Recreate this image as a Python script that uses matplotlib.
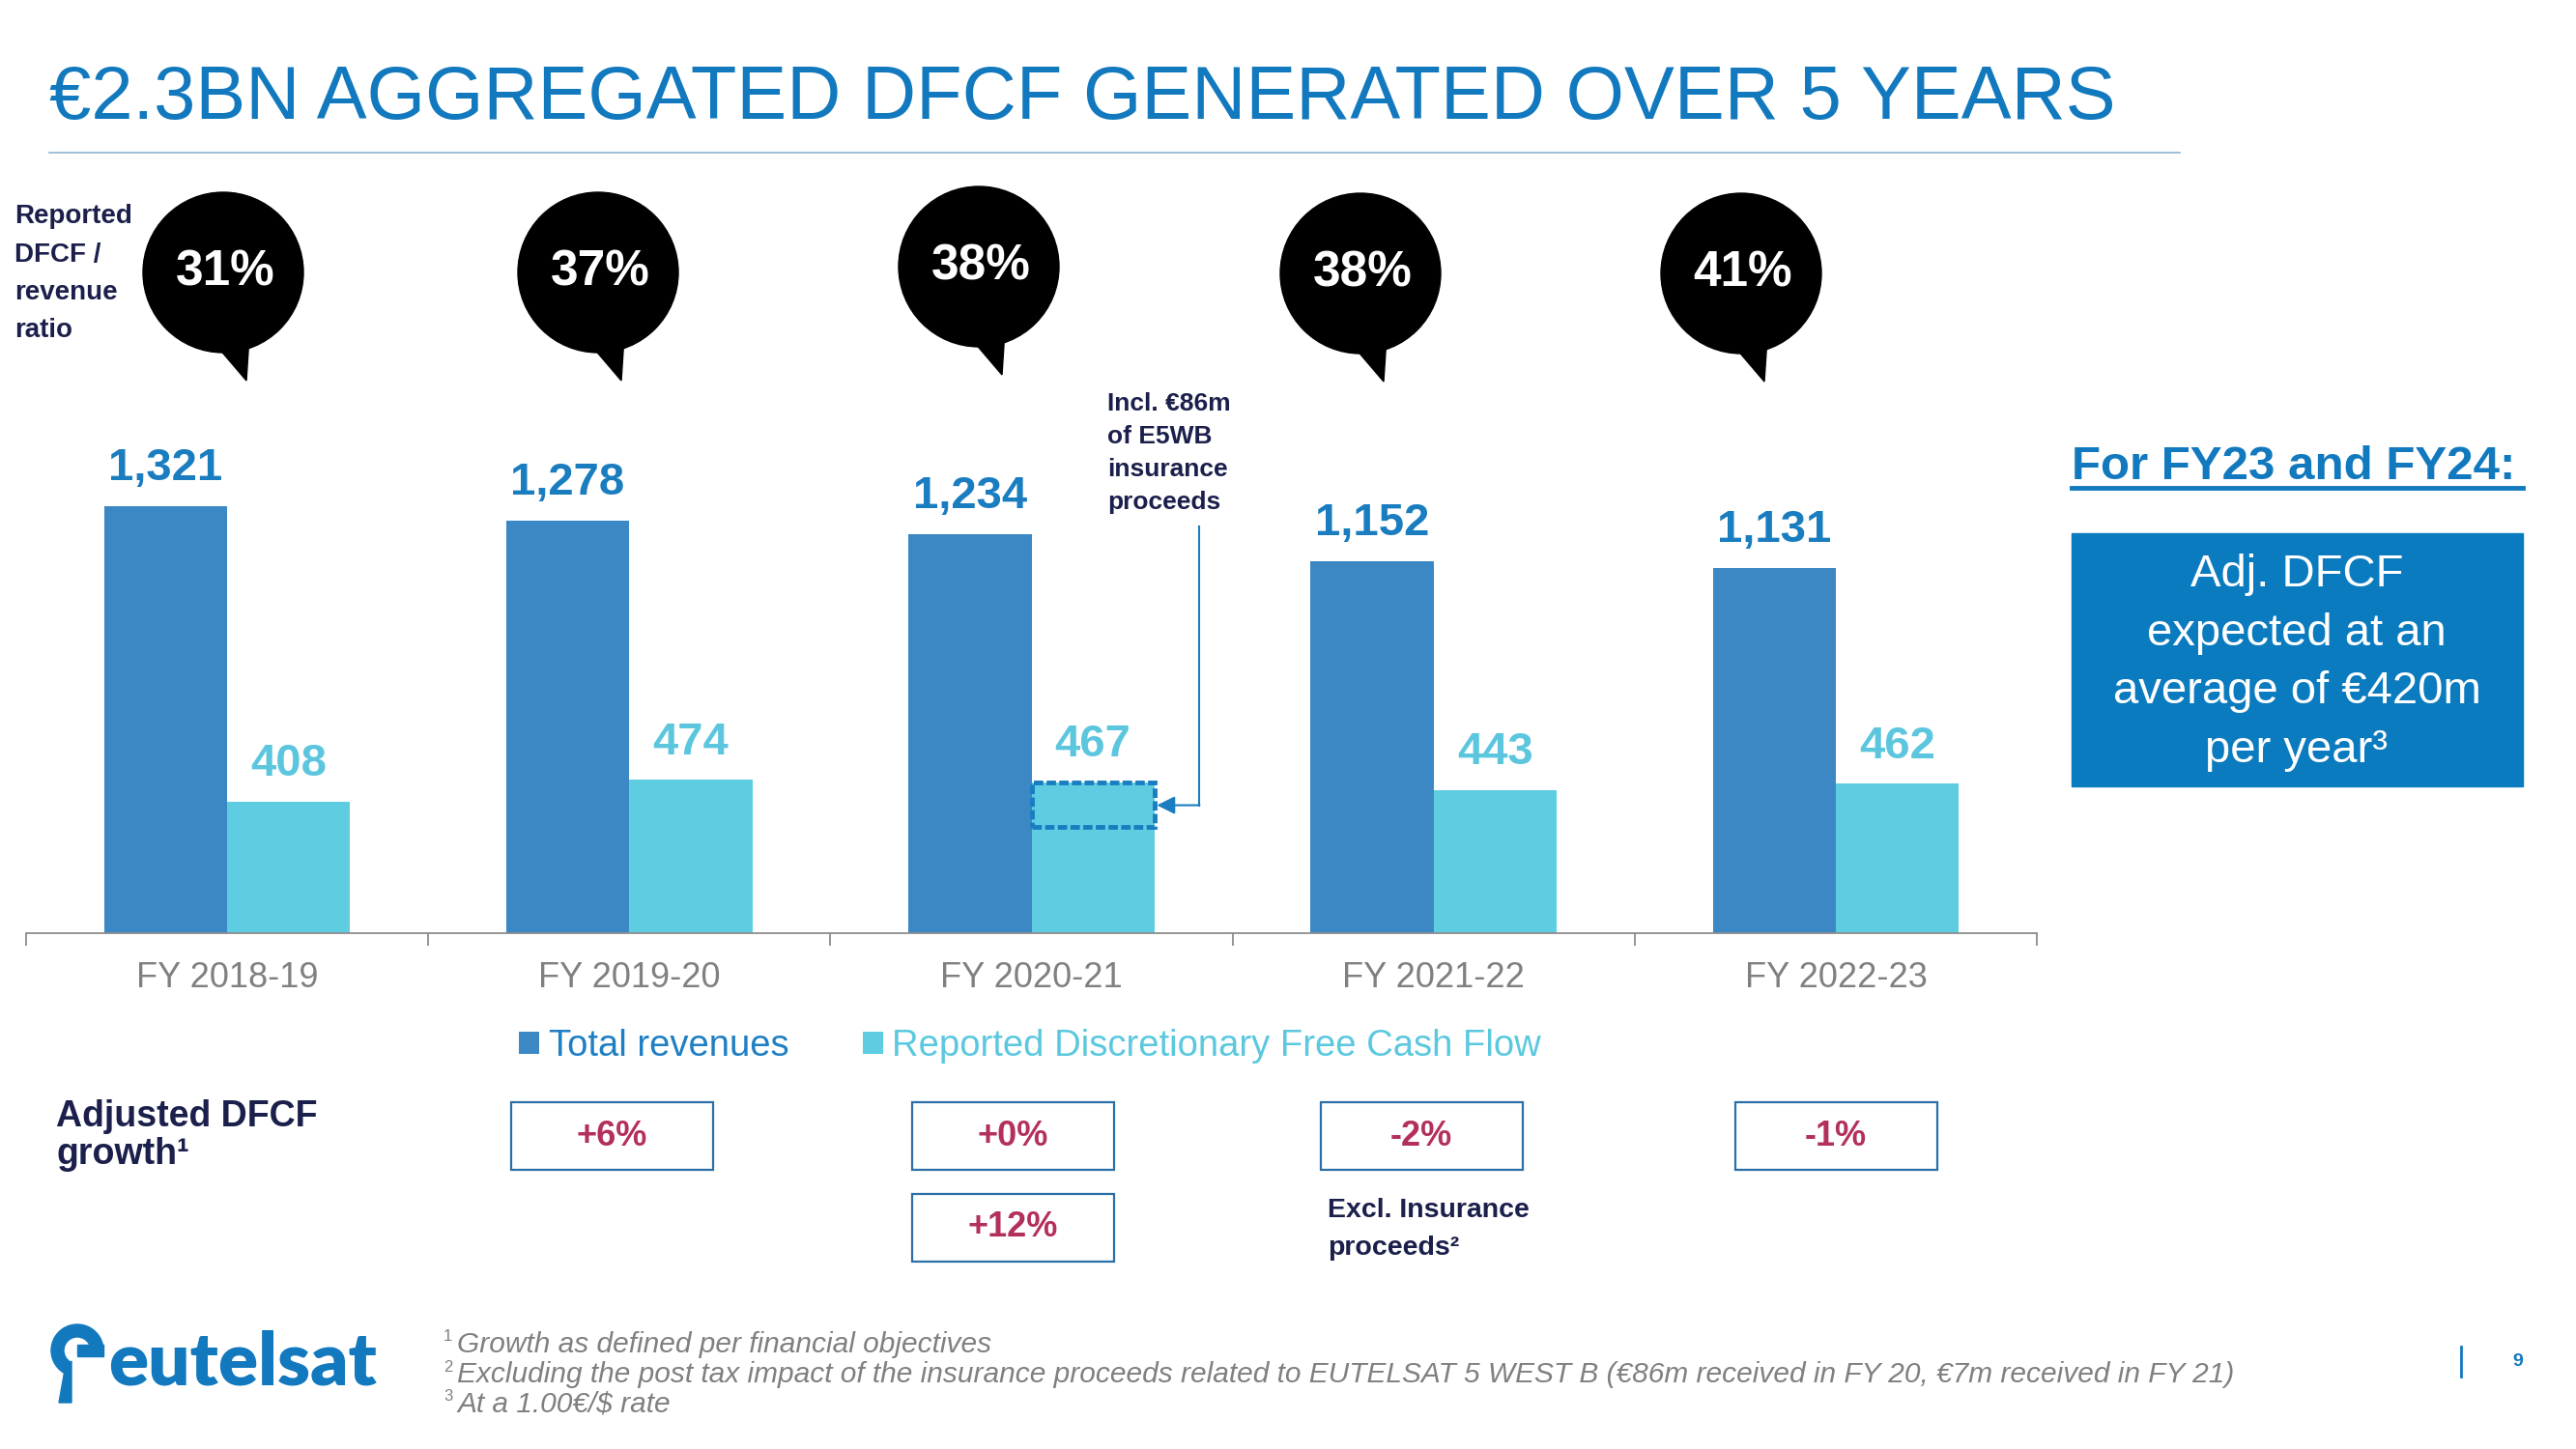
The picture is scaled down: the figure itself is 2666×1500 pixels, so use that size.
import numpy as np
import matplotlib
matplotlib.use("Agg")
import matplotlib.pyplot as plt
from matplotlib.patches import Circle, Polygon, Rectangle, Wedge

plt.rcParams['font.family'] = ['Liberation Sans', 'DejaVu Sans']

# data
years = ["FY 2018-19", "FY 2019-20", "FY 2020-21", "FY 2021-22", "FY 2022-23"]
revenues = [1321, 1278, 1234, 1152, 1131]
dfcf = [408, 474, 467, 443, 462]
dfcf_ratio = ["31%", "37%", "38%", "38%", "41%"]
growth = ["+6%", "+0%", "-2%", "-1%"]
growth_excl = "+12%"
insurance_low = 330  # bottom of the dashed insurance box in FY 2020-21

REV = "#3b88c5"
DFC = "#5ecde2"
BLUE = "#1279be"
NAVY = "#1b1f4b"
CRIMSON = "#b3305c"
GRAY = "#808080"

fig = plt.figure(figsize=(26.66, 15), dpi=100)

# overlay in pixel coordinates (y down) for all the slide decoration
ov = fig.add_axes([0, 0, 1, 1])
ov.set_xlim(0, 2666)
ov.set_ylim(1500, 0)
ov.axis('off')

# ---- bar chart ----
ax = fig.add_axes([27 / 2666, 534 / 1500, 2081 / 2666, 602 / 1500])
ax.patch.set_visible(False)
x = np.arange(len(years))
w = 0.306
ax.bar(x - w / 2, revenues, w, color=REV, label="Total revenues")
ax.bar(x + w / 2, dfcf, w, color=DFC, label="Reported Discretionary Free Cash Flow")
ax.set_xlim(-0.5, 4.5)
ax.set_ylim(0, 1800)

for xi, v in zip(x, revenues):
    ax.annotate(f"{v:,}", (xi - w / 2, v), xytext=(0, 28), textcoords='offset points',
                ha='center', va='center', fontsize=34, fontweight='bold', color="#1a7dc0")
for xi, v in zip(x, dfcf):
    ax.annotate(f"{v}", (xi + w / 2, v), xytext=(0, 28), textcoords='offset points',
                ha='center', va='center', fontsize=34, fontweight='bold', color="#5bc6de")

for s in ['left', 'top', 'right']:
    ax.spines[s].set_visible(False)
ax.spines['bottom'].set_color('#8c8c8c')
ax.spines['bottom'].set_linewidth(1.3)
ax.set_yticks([])
ax.set_xticks(x, years)
ax.set_xticks(np.arange(-0.5, 5, 1), minor=True)
ax.tick_params(axis='x', which='major', length=0, pad=21, labelsize=26, labelcolor=GRAY)
ax.tick_params(axis='x', which='minor', length=9, width=1.3, color='#8c8c8c')

# insurance proceeds box + arrow
ax.add_patch(Rectangle((2, insurance_low), w, dfcf[2] - insurance_low, fill=False,
                       ls=(0, (2, 0.7)), lw=3.5, edgecolor="#1a7dc0", zorder=3))
ax.plot([2.418, 2.418], [1260, 396], color="#1a7dc0", lw=1.5)
ax.annotate("", xy=(2.312, 396), xytext=(2.418, 396),
            arrowprops=dict(arrowstyle='-|>', color="#1a7dc0", lw=1.5,
                            mutation_scale=28, shrinkA=0, shrinkB=0))

leg = ax.legend(loc='center', bbox_to_anchor=(1066 / 2666, 1 - 1083 / 1500),
                bbox_transform=fig.transFigure, ncol=2, frameon=False, fontsize=27.5,
                handlelength=0.55, handleheight=0.55, handletextpad=0.25, columnspacing=2.0)
for t, c in zip(leg.get_texts(), ["#1f7fc4", "#5bc8df"]):
    t.set_color(c)

# ---- title ----
ov.text(51, 102, "€2.3BN AGGREGATED DFCF GENERATED OVER 5 YEARS", fontsize=56,
        color=BLUE, va='center', ha='left')
ov.plot([51, 2256], [158, 158], color='#8fb3cf', lw=1.2)

# ---- speech bubbles ----
bubble_x = [231, 619, 1013, 1408, 1802]
bubble_y = [282, 282, 276, 283, 283]
for cx, cy, lab in zip(bubble_x, bubble_y, dfcf_ratio):
    ov.add_patch(Circle((cx, cy), 83, color='black'))
    ov.add_patch(Polygon([(cx - 5, cy + 78), (cx + 27, cy + 66), (cx + 24, cy + 112)],
                         closed=True, color='black'))
    ov.text(cx + 2, cy, lab, color='white', fontsize=37, fontweight='bold',
            ha='center', va='center')

for yy, line in zip([224, 264, 303, 342], ["Reported", "DFCF /", "revenue", "ratio"]):
    ov.text(15, yy, line, fontsize=20, fontweight='bold', color=NAVY, va='center')

for yy, line in zip([418, 452, 486, 520], ["Incl. €86m", "of E5WB", "insurance", "proceeds"]):
    ov.text(1146, yy, line, fontsize=19, fontweight='bold', color=NAVY, va='center')

# ---- right panel ----
ov.text(2144, 483, "For FY23 and FY24:", fontsize=35.5, fontweight='bold', color=BLUE,
        va='center')
ov.plot([2144, 2611], [505, 505], color=BLUE, lw=3.5)
ov.add_patch(Rectangle((2144, 552), 467, 262, color='#0b7bbf'))
for yy, line in zip([595, 656, 716, 777],
                    ["Adj. DFCF", "expected at an", "average of €420m", "per year³"]):
    ov.text(2377, yy, line, fontsize=34, color='white', ha='center', va='center')

# ---- growth boxes ----
ov.text(58, 1156, "Adjusted DFCF", fontsize=27, fontweight='bold', color=NAVY, va='center')
ov.text(58, 1195, "growth¹", fontsize=27, fontweight='bold', color=NAVY, va='center')

growth_x = [633, 1048, 1471, 1900]
for cx, lab in zip(growth_x, growth):
    ov.add_patch(Rectangle((cx - 104, 1141), 209, 70, fill=False, edgecolor='#2b6fa6', lw=1.6))
    ov.text(cx, 1176, lab, fontsize=26, fontweight='bold', color=CRIMSON,
            ha='center', va='center')
ov.add_patch(Rectangle((1048 - 104, 1236), 209, 70, fill=False, edgecolor='#2b6fa6', lw=1.6))
ov.text(1048, 1271, growth_excl, fontsize=26, fontweight='bold', color=CRIMSON,
        ha='center', va='center')
ov.text(1374, 1253, "Excl. Insurance", fontsize=20.5, fontweight='bold', color=NAVY, va='center')
ov.text(1374, 1292, "proceeds²", fontsize=20.5, fontweight='bold', color=NAVY, va='center')

# ---- footer ----
notes = ["Growth as defined per financial objectives",
         "Excluding the post tax impact of the insurance proceeds related to EUTELSAT 5 WEST B "
         "(€86m received in FY 20, €7m received in FY 21)",
         "At a 1.00€/$ rate"]
for i, (yy, note) in enumerate(zip([1392, 1423, 1454], notes)):
    ov.text(459, yy - 8, str(i + 1), fontsize=12, color=GRAY, va='center')
    ov.text(473, yy, note, fontsize=21.5, style='italic', color=GRAY, va='center')

ov.plot([2547, 2547], [1394, 1425], color=BLUE, lw=2)
ov.text(2606, 1409, "9", fontsize=14, fontweight='bold', color=BLUE, ha='center', va='center')

# logo
ov.add_patch(Wedge((80, 1398), 27, -240, 0, width=13, color=BLUE))
ov.add_patch(Rectangle((80, 1392), 27, 12, color=BLUE))
ov.add_patch(Polygon([(66.5, 1421), (74, 1409), (74, 1452), (61, 1452)], closed=True, color=BLUE))
ov.text(112, 1433, "eutelsat", fontsize=55, fontweight='heavy', family='Lato', color=BLUE,
        va='baseline')

fig.savefig("out.png", dpi=100)
